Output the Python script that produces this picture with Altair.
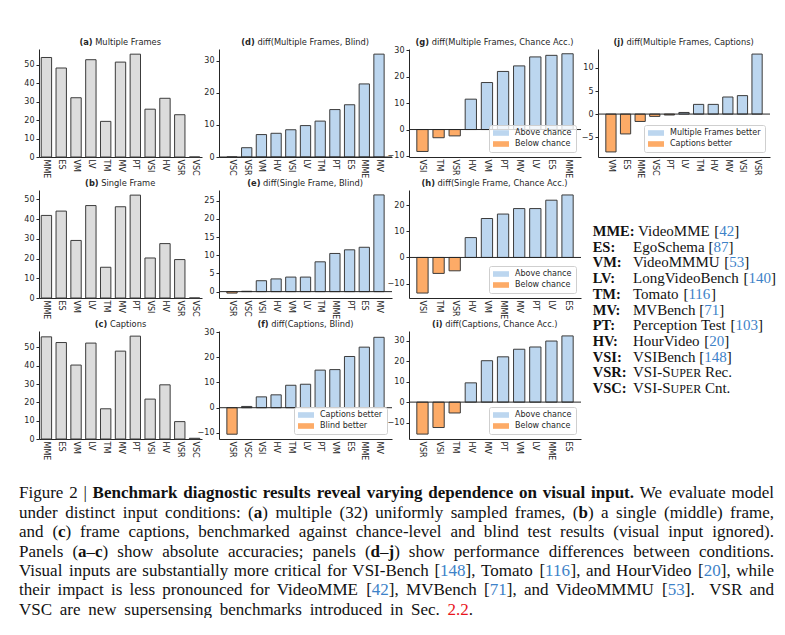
import altair as alt
import pandas as pd

# ---------------- data ----------------
ABS_CATS = ["MME", "ES", "VM", "LV", "TM", "MV", "PT", "VSI", "HV", "VSR", "VSC"]
MULTI_FRAMES = [53.9, 48.2, 32.1, 52.7, 19.3, 51.4, 55.7, 25.9, 31.8, 22.9, 0.0]
SINGLE_FRAME = [41.9, 44.1, 29.2, 46.9, 15.6, 46.3, 52.2, 20.3, 27.6, 19.5, 0.0]
CAPTIONS = [55.8, 52.7, 40.4, 52.4, 16.5, 48.0, 56.2, 21.8, 29.6, 9.5, 0.4]

MF_BLIND_CATS = ["VSC", "VSR", "VM", "HV", "VSI", "LV", "TM", "PT", "ES", "MME", "MV"]
MF_BLIND = [0.0, 2.9, 7.0, 7.4, 8.5, 9.8, 11.2, 14.8, 16.3, 22.8, 32.1]
SF_BLIND_CATS = ["VSR", "VSC", "VSI", "HV", "VM", "LV", "TM", "MME", "PT", "ES", "MV"]
SF_BLIND = [-0.4, 0.1, 3.0, 3.5, 4.0, 4.0, 8.2, 10.5, 11.5, 12.2, 26.6]
CAP_BLIND_CATS = ["VSR", "VSC", "VSI", "HV", "TM", "LV", "PT", "VM", "ES", "MME", "MV"]
CAP_BLIND = [-10.5, 0.5, 4.3, 5.1, 8.9, 9.3, 14.9, 15.1, 20.3, 24.0, 27.9]
MF_CHANCE_CATS = ["VSI", "TM", "VSR", "HV", "VM", "PT", "MV", "LV", "ES", "MME"]
MF_CHANCE = [-8.3, -3.1, -2.4, 11.5, 17.8, 22.0, 24.1, 27.5, 28.1, 28.7]
SF_CHANCE_CATS = ["VSI", "TM", "VSR", "HV", "VM", "MME", "MV", "PT", "LV", "ES"]
SF_CHANCE = [-13.6, -6.1, -5.1, 7.6, 14.9, 16.6, 18.7, 18.7, 21.9, 23.9]
CAP_CHANCE_CATS = ["VSR", "VSI", "TM", "HV", "MV", "PT", "VM", "LV", "MME", "ES"]
CAP_CHANCE = [-15.6, -12.4, -5.3, 9.4, 20.2, 22.1, 25.8, 26.9, 29.8, 32.3]
MF_CAP_CATS = ["VM", "ES", "MME", "VSC", "PT", "LV", "TM", "HV", "MV", "VSI", "VSR"]
MF_CAP = [-8.2, -4.3, -1.6, -0.5, -0.2, 0.35, 2.1, 2.1, 3.7, 4.0, 13.0]

LEG_ABBR = ["MME", "ES", "VM", "LV", "TM", "MV", "PT", "HV", "VSI", "VSR", "VSC"]
LEG_NAME = ["VideoMME", "EgoSchema", "VideoMMMU", "LongVideoBench", "Tomato", "MVBench",
            "Perception Test", "HourVideo", "VSIBench", "VSI-SUPER Rec.", "VSI-SUPER Cnt."]
LEG_REF = ["42", "87", "53", "140", "116", "71", "103", "20", "148", "", ""]

CAPTION_LINES = [
    [("Figure 2 | ", "r"), ("Benchmark diagnostic results reveal varying dependence on visual input.", "b"),
     (" We evaluate model", "r")],
    [("under distinct input conditions: (", "r"), ("a", "b"), (") multiple (32) uniformly sampled frames, (", "r"),
     ("b", "b"), (") a single (middle) frame,", "r")],
    [("and (", "r"), ("c", "b"),
     (") frame captions, benchmarked against chance-level and blind test results (visual input ignored).", "r")],
    [("Panels (", "r"), ("a", "b"), ("\u2013", "r"), ("c", "b"), (") show absolute accuracies; panels (", "r"),
     ("d", "b"), ("\u2013", "r"), ("j", "b"), (") show performance differences between conditions.", "r")],
    [("Visual inputs are substantially more critical for VSI-Bench [", "r"), ("148", "blue"), ("], Tomato [", "r"),
     ("116", "blue"), ("], and HourVideo [", "r"), ("20", "blue"), ("], while", "r")],
    [("their impact is less pronounced for VideoMME [", "r"), ("42", "blue"), ("], MVBench [", "r"), ("71", "blue"),
     ("], and VideoMMMU [", "r"), ("53", "blue"), ("].  VSR and", "r")],
    [("VSC are new supersensing benchmarks introduced in Sec. ", "r"), ("2.2", "red"), (".", "r")],
]

# ---------------- style ----------------
SANS = "DejaVu Sans"
SERIF = "Liberation Serif"
AX = "#262626"
EDGE = "#3c3c3c"
GRAY = "#dcdcdc"
BLUE = "#bcd6ef"
ORANGE = "#fdab67"
LINK = "#3d82c8"
RED = "#e8141c"
TXT = "#111111"
H = 108
WIDTHS = [163, 173, 172, 172]

# font metrics (per 1000 em) used only for placing text pieces
def _tbl(s):
    d = {}
    for tok in s.split():
        d[tok[0]] = int(tok[1:])
    return d

TR = _tbl("A722 B667 C667 D722 E611 F556 G722 H722 I333 J389 K722 L611 M889 N722 O722 P556 Q722 R667 S556 T611 "
          "U722 V722 W944 X722 Y722 Z611 a444 b500 c444 d500 e444 f333 g500 h500 i278 j278 k500 l278 m778 n500 "
          "o500 p500 q500 r333 s389 t278 u500 v500 w722 x500 y500 z444 (333 )333 ,250 -333 .250 :278 ;278 [333 "
          "]333 |200 \u2013500")
TR.update({str(i): 500 for i in range(10)})
TR[" "] = 250
TB = _tbl("A722 B667 C722 D722 E667 F611 G778 H778 I389 J500 K778 L667 M944 N722 O778 P611 Q778 R722 S556 T667 "
          "U722 V722 W1000 X722 Y722 Z667 a500 b556 c444 d556 e444 f333 g500 h556 i278 j333 k556 l278 m833 n556 "
          "o500 p556 q556 r444 s389 t333 u556 v500 w722 x500 y500 z444 (333 )333 ,250 -333 .250 :333 [333 ]333")
TB.update({str(i): 500 for i in range(10)})
TB[" "] = 250
DVR = _tbl("A684 B686 C698 D770 E632 F575 M863 S635 a613 b635 c550 d635 e615 f352 g635 h634 i278 k579 l278 m974 "
           "n634 o612 p635 r411 s521 t392 u634 v592 w818 x592 y592 (390 )390 ,318 .318")
DVR[" "] = 318
DVB = _tbl("(457 )457 a675 b716 c593 d716 e678 f435 g716 h712 i343 j343")


def width(s, tbl, size, default=500):
    return sum(tbl.get(ch, default) for ch in s) * size / 1000.0


STYLE = {
    "r": (SERIF, "normal", TXT, 1.0, TR),
    "b": (SERIF, "bold", TXT, 1.0, TB),
    "blue": (SERIF, "normal", LINK, 1.0, TR),
    "red": (SERIF, "normal", RED, 1.0, TR),
    "sc": (SERIF, "normal", TXT, 0.8, TR),
}


def layout_runs(runs, x0, y, size, target=None):
    tokens = []
    for text, st in runs:
        font, weight, color, fac, tbl = STYLE[st]
        sz = size * fac
        buf = ""
        for ch in text + "\0":
            if ch in (" ", "\0"):
                if buf:
                    tokens.append((buf, st, width(buf, tbl, sz), False, sz))
                    buf = ""
                if ch == " ":
                    tokens.append((" ", st, width(" ", tbl, sz), True, sz))
            else:
                buf += ch
    natural = sum(t[2] for t in tokens)
    nsp = sum(1 for t in tokens if t[3])
    extra = (target - natural) / nsp if (target is not None and nsp) else 0.0
    pieces = []
    x = x0
    for text, st, w, sp, sz in tokens:
        if sp:
            x += w + extra
            continue
        font, weight, color, fac, tbl = STYLE[st]
        pieces.append(dict(t=text, x=x, y=y, s=sz, c=color, font=font, weight=weight))
        x += w
    return pieces, x


def text_layers(pieces):
    df = pd.DataFrame(pieces)
    out = []
    for (font, weight), g in df.groupby(["font", "weight"]):
        out.append(
            alt.Chart(g[["t", "x", "y", "s", "c"]].reset_index(drop=True))
            .mark_text(align="left", baseline="alphabetic", font=font, fontWeight=weight)
            .encode(
                x=alt.X("x:Q", scale=None, axis=None),
                y=alt.Y("y:Q", scale=None, axis=None),
                text="t:N",
                color=alt.Color("c:N", scale=None, legend=None),
                size=alt.Size("s:Q", scale=None, legend=None),
            )
        )
    return out


def title_pieces(bold, reg, w):
    size = 8.3
    wb = width(bold, DVB, size, 620)
    wsp = DVR[" "] * size / 1000
    wr = width(reg, DVR, size, 620)
    x0 = w / 2 - (wb + wsp + wr) / 2
    return [
        dict(t=bold, x=x0, y=-4, s=size, c=AX, font=SANS, weight="bold"),
        dict(t=reg, x=x0 + wb + wsp, y=-4, s=size, c=AX, font=SANS, weight="normal"),
    ]


LEG_PATH = "M-1,-0.7L3,-0.7L3,0.7L-1,0.7Z"


def panel(cats, vals, bold, reg, w, domain, ticks, kind, labels=None, show_legend=False, extra=None):
    n = len(cats)
    outer = 0.15 if kind == "abs" else 0.05 * (n - 0.3)
    df = pd.DataFrame({"cat": cats, "v": vals})
    xenc = alt.X("cat:N", sort=list(cats),
                 scale=alt.Scale(paddingInner=0.3, paddingOuter=outer),
                 axis=alt.Axis(title=None, labelAngle=90, labelFont=SANS, labelFontSize=8, labelColor=AX,
                               ticks=False, labelPadding=2, domainColor=AX, domainWidth=1, grid=False,
                               labelOverlap=False))
    yenc = alt.Y("v:Q", scale=alt.Scale(domain=domain, nice=False, zero=False),
                 axis=alt.Axis(title=None, values=ticks, labelFont=SANS, labelFontSize=8, labelColor=AX,
                               tickSize=3, tickColor=AX, domainColor=AX, domainWidth=1, grid=False,
                               labelPadding=2, format="d", labelOverlap=False))
    layers = []
    if kind == "abs":
        layers.append(alt.Chart(df).mark_bar(fill=GRAY, stroke=EDGE, strokeWidth=1)
                      .encode(x=xenc, y=yenc, y2=alt.datum(0)))
    else:
        pos, neg = labels
        df["lab"] = [pos if v >= 0 else neg for v in vals]
        if show_legend:
            leg = alt.Legend(title=None, orient="bottom-right", offset=5, padding=4,
                             fillColor="rgba(255,255,255,0.8)", strokeColor="#cfcfcf", cornerRadius=2,
                             symbolType=LEG_PATH, symbolSize=64, symbolStrokeWidth=0, symbolOpacity=1,
                             labelFont=SANS, labelFontSize=8, labelColor=AX, labelOffset=14,
                             rowPadding=3, labelLimit=300)
        else:
            leg = None
        layers.append(alt.Chart(df).mark_bar(stroke=EDGE, strokeWidth=1)
                      .encode(x=xenc, y=yenc, y2=alt.datum(0),
                              color=alt.Color("lab:N", scale=alt.Scale(domain=[pos, neg], range=[BLUE, ORANGE]),
                                              legend=leg)))
        # zero reference line, drawn through the same y scale and axis definition
        layers.append(alt.Chart(pd.DataFrame({"v": [0.0]})).mark_rule(color=AX, strokeWidth=1)
                      .encode(y=yenc))
    pieces = title_pieces(bold, reg, w)
    if extra:
        pieces = pieces + extra
    layers.extend(text_layers(pieces))
    return alt.layer(*layers).properties(width=w, height=H)


# ---------------- caption and side legend (relative to panel (a) origin) ----------------
OX, OY = 38, 48
extra_pieces = []
for k, runs in enumerate(CAPTION_LINES):
    base = 497.4 + 19.4 * k - OY
    tgt = (773 - 18) if k < 6 else (472 - 18)
    p, _ = layout_runs(runs, 18 - OX, base, 17, target=tgt)
    extra_pieces += p

for k, abbr in enumerate(LEG_ABBR):
    base = 235 + 15.7 * k - OY
    p, xend = layout_runs([(abbr + ":", "b")], 591.7 - OX, base, 14.5)
    extra_pieces += p
    name = LEG_NAME[k]
    if "SUPER" in name:
        rest = name.split("SUPER")[1]
        runs = [("VSI-S", "r"), ("UPER", "sc"), (rest, "r")]
    else:
        runs = [(name + " [", "r"), (LEG_REF[k], "blue"), ("]", "r")]
    nx = max(632 - OX, xend + 3.5)
    p, _ = layout_runs(runs, nx, base, 15)
    extra_pieces += p

anchor = alt.Chart(pd.DataFrame({"x": [-30], "x2": [-29], "y": [-40]})).mark_rule(
    color="white", strokeWidth=1).encode(
    x=alt.X("x:Q", scale=None, axis=None), x2="x2:Q", y=alt.Y("y:Q", scale=None, axis=None))

ABS_TICKS = [0, 10, 20, 30, 40, 50]
pa = alt.layer(panel(ABS_CATS, MULTI_FRAMES, "(a)", "Multiple Frames", WIDTHS[0], [0, 58.5], ABS_TICKS, "abs",
                     extra=extra_pieces), anchor)
pb = panel(ABS_CATS, SINGLE_FRAME, "(b)", "Single Frame", WIDTHS[0], [0, 54.8], ABS_TICKS, "abs")
pc = panel(ABS_CATS, CAPTIONS, "(c)", "Captions", WIDTHS[0], [0, 59.0], ABS_TICKS, "abs")

pd_ = panel(MF_BLIND_CATS, MF_BLIND, "(d)", "diff(Multiple Frames, Blind)", WIDTHS[1], [0, 33.7],
            [0, 10, 20, 30], "diff", labels=("Multiple Frames better", "Blind better"))
pe = panel(SF_BLIND_CATS, SF_BLIND, "(e)", "diff(Single Frame, Blind)", WIDTHS[1], [-1.75, 27.95],
           [0, 5, 10, 15, 20, 25], "diff", labels=("Single Frame better", "Blind better"))
pf = panel(CAP_BLIND_CATS, CAP_BLIND, "(f)", "diff(Captions, Blind)", WIDTHS[1], [-12.4, 30.4],
           [-10, 0, 10, 20, 30], "diff", labels=("Captions better", "Blind better"), show_legend=True)

CH = ("Above chance", "Below chance")
pg = panel(MF_CHANCE_CATS, MF_CHANCE, "(g)", "diff(Multiple Frames, Chance Acc.)", WIDTHS[2], [-10.4, 30.5],
           [-10, 0, 10, 20, 30], "diff", labels=CH, show_legend=True)
ph = panel(SF_CHANCE_CATS, SF_CHANCE, "(h)", "diff(Single Frame, Chance Acc.)", WIDTHS[2], [-15.5, 25.8],
           [-10, 0, 10, 20], "diff", labels=CH, show_legend=True)
pi = panel(CAP_CHANCE_CATS, CAP_CHANCE, "(i)", "diff(Captions, Chance Acc.)", WIDTHS[2], [-18.0, 34.7],
           [-10, 0, 10, 20, 30], "diff", labels=CH, show_legend=True)

pj = panel(MF_CAP_CATS, MF_CAP, "(j)", "diff(Multiple Frames, Captions)", WIDTHS[3], [-9.3, 14.1],
           [-5, 0, 5, 10], "diff", labels=("Multiple Frames better", "Captions better"), show_legend=True)

blank = alt.Chart(pd.DataFrame({"x": [0], "y": [0]})).mark_point(opacity=0).encode(
    x=alt.X("x:Q", scale=None, axis=None), y=alt.Y("y:Q", scale=None, axis=None)
).properties(width=WIDTHS[3], height=H)

chart = (
    alt.concat(pa, pd_, pg, pj, pb, pe, ph, blank, pc, pf, pi, columns=4,
               spacing={"row": 33, "column": 17}, bounds="flush")
    .resolve_scale(color="independent").resolve_legend(color="independent")
    .properties(padding=0, background="white")
    .configure_view(stroke=None)
)

chart.save("out.html", embed_options={"renderer": "svg", "actions": False})
